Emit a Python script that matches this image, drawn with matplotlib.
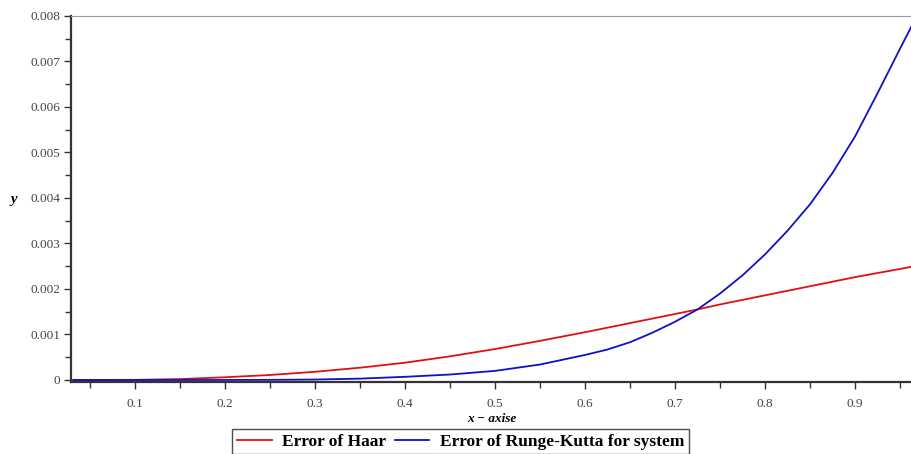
import matplotlib.pyplot as plt
import numpy as np
from matplotlib.ticker import MultipleLocator, FormatStrFormatter

plt.rcParams['font.family'] = ['Liberation Serif', 'DejaVu Serif']

# collocation points and absolute errors
x_pts = [0.03125, 0.1, 0.15, 0.2, 0.25, 0.3, 0.35, 0.4, 0.45, 0.5, 0.55,
         0.6, 0.625, 0.65, 0.675, 0.7, 0.725, 0.75, 0.775, 0.8, 0.825,
         0.85, 0.875, 0.9, 0.925, 0.95, 0.96875]
err_haar = [0.0, 0.000003, 0.00002, 0.00006, 0.00011, 0.00018, 0.00027,
            0.00038, 0.00052, 0.00068, 0.00086, 0.00105, 0.00115, 0.00125,
            0.00135, 0.00145, 0.00155, 0.00166, 0.00176, 0.00186, 0.00196,
            0.00206, 0.00216, 0.00226, 0.00235, 0.00244, 0.00251]
err_rk = [0.0, 0.0, 0.0, 0.000001, 0.000003, 0.00001, 0.00003, 0.00007,
          0.00012, 0.0002, 0.00034, 0.00055, 0.00067, 0.00083, 0.00104,
          0.00128, 0.00155, 0.0019, 0.0023, 0.00276, 0.00328, 0.00386,
          0.00455, 0.00535, 0.0063, 0.00728, 0.0080]

fig = plt.figure(figsize=(9.12, 4.54), dpi=100)
ax = fig.add_axes([0.078, 0.159, 0.922, 0.806])

ax.plot(x_pts, err_haar, color='#e01010', lw=1.3, label='Error of Haar')
ax.plot(x_pts, err_rk, color='#1010c8', lw=1.3, label='Error of Runge-Kutta for system')

ax.set_xlim(0.029, 0.9633)
ax.set_ylim(-0.00004, 0.008)

ax.xaxis.set_major_locator(MultipleLocator(0.1))
ax.xaxis.set_minor_locator(MultipleLocator(0.05))
ax.yaxis.set_major_locator(MultipleLocator(0.001))
ax.yaxis.set_minor_locator(MultipleLocator(0.0005))
ax.xaxis.set_major_formatter(FormatStrFormatter('%g'))
ax.yaxis.set_major_formatter(FormatStrFormatter('%g'))
ax.tick_params(which='both', direction='out', colors='#333333',
               labelsize=9.5, labelcolor='#444444', width=1.0)
ax.tick_params(which='major', length=5)
ax.tick_params(axis='x', which='major', pad=7)
ax.tick_params(axis='y', which='major', pad=3)
ax.tick_params(which='minor', length=4)

ax.spines['left'].set_linewidth(1.6)
ax.spines['bottom'].set_linewidth(1.6)
ax.spines['left'].set_color('#333333')
ax.spines['bottom'].set_color('#333333')
ax.spines['top'].set_color('#999999')
ax.spines['right'].set_visible(False)

ax.set_xlabel('x − axise', fontsize=9.5, fontweight='bold', style='italic', labelpad=2)
fig.text(0.012, 0.56, 'y', fontsize=10.5, fontweight='bold', style='italic', va='center')

leg = fig.legend(loc='lower center', bbox_to_anchor=(0.505, -0.012), ncol=2,
                 frameon=True, fancybox=False, handlelength=2.0,
                 columnspacing=0.5, handletextpad=0.6, borderpad=0.25,
                 borderaxespad=0.3, prop={'weight': 'bold', 'size': 12.5})
leg.get_frame().set_edgecolor('#222222')
leg.get_frame().set_linewidth(1.0)

fig.savefig('out.png', dpi=100)
